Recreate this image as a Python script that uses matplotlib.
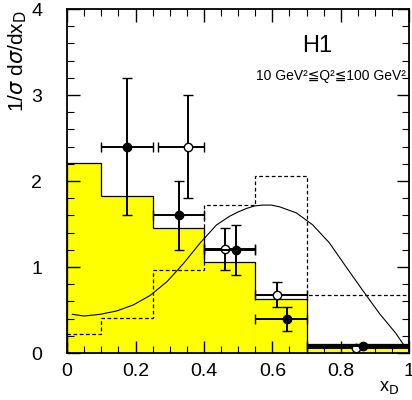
import numpy as np
import matplotlib.pyplot as plt
from matplotlib.ticker import MultipleLocator

plt.rcParams['font.family'] = ['Liberation Sans', 'DejaVu Sans']

# histogram bins
edges = [0.0, 0.1, 0.25, 0.4, 0.55, 0.7, 1.0]
mc_yellow = [2.21, 1.82, 1.45, 1.06, 0.63, 0.11]
mc_dashed = [0.22, 0.41, 0.97, 1.72, 2.06, 0.67]

# smooth curve
curve_x = [0.015, 0.049, 0.097, 0.146, 0.194, 0.243, 0.292, 0.34, 0.389, 0.437,
           0.475, 0.5, 0.524, 0.548, 0.572, 0.597, 0.621, 0.67, 0.718, 0.767,
           0.816, 0.864, 0.913, 0.961, 0.985]
curve_y = [0.45, 0.43, 0.45, 0.49, 0.56, 0.67, 0.83, 1.04, 1.28, 1.49,
           1.59, 1.64, 1.68, 1.71, 1.72, 1.72, 1.70, 1.63, 1.49, 1.28,
           1.00, 0.73, 0.46, 0.23, 0.09]

# filled points
fx = [0.175, 0.327, 0.495, 0.644, 0.864]
fy = [2.4, 1.6, 1.2, 0.40, 0.08]
fxlo = [0.1, 0.25, 0.4, 0.55, 0.7]
fxhi = [0.25, 0.4, 0.55, 0.7, 1.0]
fylo = [1.6, 1.2, 0.91, 0.26, 0.08]
fyhi = [3.2, 2.0, 1.49, 0.54, 0.08]

# open points
ox = [0.353, 0.463, 0.614, 0.845]
oy = [2.4, 1.21, 0.67, 0.06]
oxlo = [0.265, 0.4, 0.55, 0.7]
oxhi = [0.40, 0.55, 0.7, 1.0]
oylo = [1.8, 0.96, 0.54, 0.06]
oyhi = [3.0, 1.45, 0.82, 0.06]

fig = plt.figure(figsize=(4.12, 4.0), dpi=100)
ax = fig.add_axes([0.163, 0.1175, 0.83, 0.86])

ax.stairs(mc_yellow, edges, fill=True, color='#ffff00', zorder=1)
ax.stairs(mc_yellow, edges, color='black', lw=0.9, zorder=2)
ax.stairs(mc_dashed, edges, color='black', lw=0.9, ls=(0, (3, 2)), zorder=2)
ax.plot(curve_x, curve_y, color='black', lw=0.8, zorder=3)

fx, fy, ox, oy = map(np.array, (fx, fy, ox, oy))
ax.errorbar(fx, fy,
            xerr=[fx - np.array(fxlo), np.array(fxhi) - fx],
            yerr=[fy - np.array(fylo), np.array(fyhi) - fy],
            fmt='o', color='black', ms=6, lw=1.4, capsize=3.5, zorder=5)
ax.errorbar(ox, oy,
            xerr=[ox - np.array(oxlo), np.array(oxhi) - ox],
            yerr=[oy - np.array(oylo), np.array(oyhi) - oy],
            fmt='o', color='black', mfc='white', mec='black', ms=6, lw=1.4,
            capsize=3.5, zorder=4)

ax.set_xlim(0, 1)
ax.set_ylim(0, 4)
ax.xaxis.set_major_locator(MultipleLocator(0.2))
ax.xaxis.set_minor_locator(MultipleLocator(0.05))
ax.yaxis.set_major_locator(MultipleLocator(1))
ax.yaxis.set_minor_locator(MultipleLocator(0.2))
ax.set_xticks([0, 0.2, 0.4, 0.6, 0.8, 1.0])
ax.set_xticklabels(['0', '0.2', '0.4', '0.6', '0.8', '1'])
ax.tick_params(which='both', direction='in', top=True, right=True, labelsize=14)
ax.tick_params(which='major', length=9, width=1)
ax.tick_params(which='minor', length=5, width=0.8)
ax.tick_params(axis='y', pad=18)
ax.tick_params(axis='x', pad=7)
for s in ax.spines.values():
    s.set_linewidth(1.3)

fig.text(0.015, 0.975, r'1/$\sigma$ d$\sigma$/dx$_{\rm D}$', fontsize=15,
         rotation=90, va='top', ha='left')
fig.text(0.97, 0.022, r'x$_{\rm D}$', fontsize=13, ha='right')

ax.text(0.73, 3.5, 'H1', fontsize=17, ha='center')
ax.text(0.99, 3.18, '10 GeV\u00b2\u2266Q\u00b2\u2266100 GeV\u00b2', fontsize=10, ha='right')

fig.savefig('out.png', dpi=100)
